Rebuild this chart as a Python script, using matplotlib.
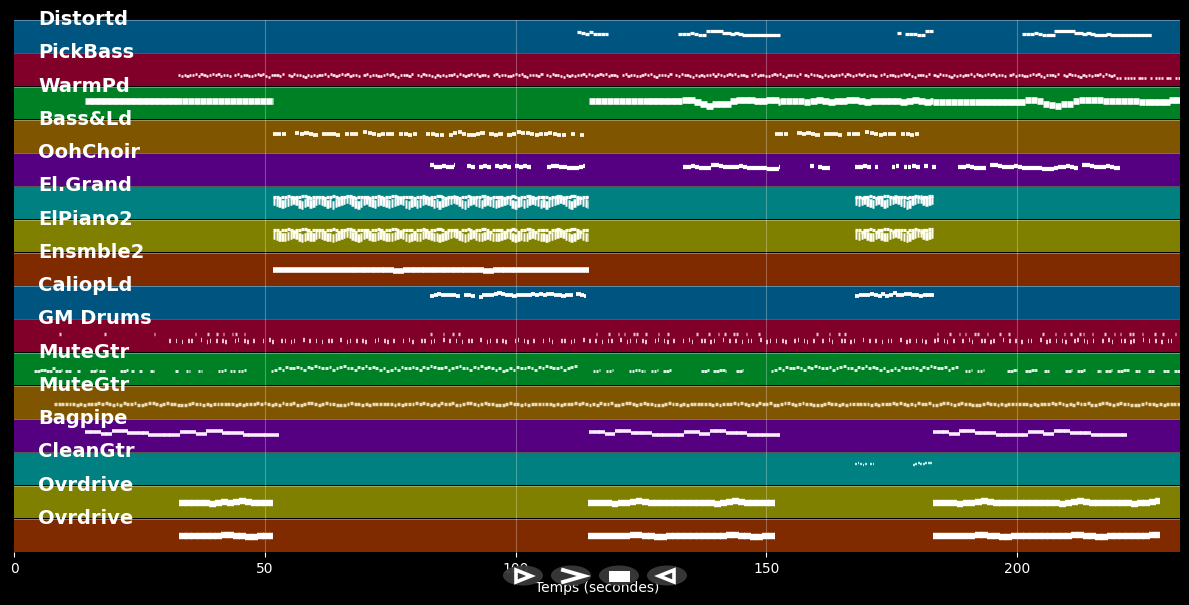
import matplotlib
matplotlib.use("Agg")
import matplotlib.pyplot as plt
from matplotlib.patches import Ellipse, Polygon, Rectangle

# ---------- data (time in s, pitch as MIDI note) ----------
TRACK_NAMES = ["Distortd", "PickBass", "WarmPd", "Bass&Ld", "OohChoir", "El.Grand", "ElPiano2", "Ensmble2",
               "CaliopLd", "GM Drums", "MuteGtr", "MuteGtr", "Bagpipe", "CleanGtr", "Ovrdrive", "Ovrdrive"]
TRACK_COLORS = ["#005580", "#80002A", "#008024", "#805500", "#550080", "#008080", "#808000", "#802A00"]
X_TICKS = [0, 50, 100, 150, 200]
X_END = 232.5

N = None
DIST_SPANS = [(112.2, 118.4), (132.4, 152.7), (176.0, 183.2), (201.0, 226.7)]
DIST_A = [81, 77, 73, 81, 75, 75, 75, 75]
DIST_B = [73, 73, 75, 77, 73, 71, 71, 84, 84, 84, 84, 77, 77, 75, 77, 73, 71, 71, 71, 71, 71, 71, 71, 71, 71, 71]
DIST_C = [77, N, 75, 75, 73, 71, 71, 84, 84]
DIST_D = [73, 73, 75, 77, 73, 71, 71, 71, 84, 84, 84, 84, 84, 77, 77, 75, 77, 73, 71, 71, 71, 73, 71, 71, 71, 71,
          71, 71, 71, 71, 71, 71, 71, 71]

BASS_SPANS = [(32.7, 219.7), (219.7, 232.5)]
BASS_MAIN = [43, 39, 43, 39, 43, 43, 47, 39, 47, 43, 39, 43, 47, 43, 47, 39, 43, 43, 39, N, 43, 47, 39, 43,
             43, 39, 39, 43, 47, 43, 47, 39, 35, 43, 43, 43, 39, 47, N, 43, 39, 47, 43, 43, 39, 35]
BASS_END = [33, 33, N, 33, 33, 33, 33, N, 33, 33, 33, N, 33, N, 33, 33, 33, N]

WARM_SPANS = [(14.2, 51.7), (114.6, 133.2), (133.2, 152.7), (152.7, 183.2), (183.2, 201.5), (201.5, 232.5)]
WARM_A = [70]
WARM_B = [70]
WARM_C = [74, 74, 66, 62, 54, 60, 62, 62, 70, 74, 74, 74, 72, 72]
WARM_D = [70, 70, 72, 72, 68, 70, 74, 70, 66, 70, 72, 74, 74, 70, 68, 70]
WARM_E = [66]
WARM_F = [74, 74, 70, 62, 58, 54, 62, 62, 70, 74, 74, 74, 74, 72, 70, 70, 70, 70, 70, 68, 66, 66, 66, 66]

CHOIR_SPANS = [(51.6, 113.8), (151.7, 182.2)]
CHOIR_RIFF = [73, 73, 73, N, N, 77, 73, 77, 73, 70, N, 73, 73, 73, 70, N, 73, 73, 73, N, 81, 77, 73, 70, 73, 73, 73, N,
              73, 73, 70, 73, N, N, 73, 73, 70, 70, N, 70, 77, 81, 73, 70, 70, 73, 77, N, 73, 70, 73, N, 70, 73,
              81, 77, 77, 73, 70, 73, 73, 77, 73, 70, 70, N, 73, N, 70, N]

OOH_SPANS = [(82.9, 87.9), (90.3, 103.5), (106.3, 113.8), (133.4, 152.7), (158.7, 162.7), (167.7, 172.2),
             (175.0, 184.6), (188.2, 220.5)]
OOH_A = [81, 73, 73, 77, 73, 73]
OOH_B = [77, 73, N, 73, 77, 73, N, 77, 73, 77, 73, N, 77, 73]
OOH_C = [73, 77, 77, 73, 73, 70, 70, 70]
OOH_D = [73, 73, 77, 73, 70, 70, 70, 81, 81, 77, 73, 73, 73, 73, 77, 73, 70, 70, 70, 70, 70, 66, 66, 66]
OOH_E = [77, N, 73, 70, 70]
OOH_F = [73, 73, 77, 73, N, 73]
OOH_G = [73, 77, N, 73, 73, 77, 73, N, 77, N, 73, N]
OOH_H = [73, 73, 77, 73, 70, 70, 70, N, 81, 81, 77, 73, 73, 73, 77, 73, 70, 70, 70, 70, 70, 66, 66, 66, 70, 73, 73,
         77, 73, 70, N, 81, 81, 77, 73, 73, 73, 77, 73, 70, 70, 70, 66, 66, 66, 66]

PIANO_SPANS = [(51.6, 114.4), (167.7, 183.2)]
PIANO_RIFF = [69, 65, 62, 60, 62, 65, 69, 73, 69, 60, 56, 62, 65, 60, 62, 69, 73, 69, 65, 60, 62, 56, 62, 65, 69, 73, 77,
              73, 65, 60, 56, 62, 69, 73, 65, 62, 60, 65]
PIANO_B = [69, 65, 69, 73, 65, 62, 60, 69, 73, 65, 60, 62, 69, 73, 77, 73, 65, 62, 56, 60, 69, 73, 77, 77]
PIANO_TOP = [85, 85, 81, 85, 85, 89, 85, 81, 85, 85, 89, 89, 85, 81, 85, 85]

ENS_SPANS = [(51.6, 114.6)]
ENS_RIFF = [62, 62, 62, 62, 62, 62, 62, 62, 62, 62, 62, 62, 58, 62, 62, 62, 62, 62, 62, 62, 62, 58, 62, 62]

CAL_SPANS = [(82.9, 114.0), (167.7, 183.4)]
CAL_A = [89, 93, 95, 93, 93, 91, 93, 89, N, 93, 93, 89, N, 85, 93, 93, 93, 97, 99, 97, 93, 93, 89, 93, 93, 93, 93, 97,
         93, 97, 93, 97, 97, 93, 93, 89, 93, 93, N, 97, 93]
CAL_B = [89, 93, 93, 93, 97, 93, 89, 97, 89, 93, 99, 93, 93, 97, 97, 93, 93, 89, 93, 93, 93]

DRUM_LOW_SPANS = [(31.0, 232.5)]
DRUM_LOW_RIFF = [43, N, 43, N, 39, N, 43, 43, N, N, 47, N, 39, 43, N, 43, N, 43, 39, N, N, 43, 47, N, 43, 39, N, 43, N,
                 N, 43, N, 47, 39, N, N, 43, 43, N, 39, 43, N, N, 47, N]
DRUM_TOP_SPANS = [(9.0, 9.5), (18.0, 18.5), (27.9, 28.4), (36.0, 46.0), (83.0, 90.0), (116.0, 131.0), (136.0, 150.0),
                  (160.0, 166.5), (184.0, 199.0), (205.0, 228.0), (229.0, 232.5)]
DRUM_TOP_RIFF = [70, N, N, N, 70, N, N, 70, N, 70, N, N, 70, 70, N, N]

MUTE_DENSE_SPANS = [(51.2, 112.5), (150.9, 188.5)]
MUTE_DENSE = [58, 62, 66, 62, 70, 66, 66, 70, 66, 62, 70, 66, 74, 70, 66, 66, 70, 62, 66, 70, 74, 66, 66, 62, 70, 66,
              74, 66, 70, 66, 62, 66]
MUTE_SPARSE_SPANS = [(4.0, 9.6), (10.2, 11.4), (12.6, 13.2), (15.2, 16.6), (17.0, 18.2), (21.2, 22.8), (23.4, 24.0),
                     (25.0, 25.6), (27.2, 28.0), (32.2, 32.8), (34.2, 35.0), (36.6, 37.4), (40.6, 42.2), (43.0, 44.0),
                     (44.6, 46.4), (115.4, 116.8), (118.0, 119.4), (122.6, 125.8), (127.0, 128.4), (129.4, 131.0),
                     (137.0, 138.6), (139.4, 142.0), (144.0, 145.4), (189.6, 191.0), (192.0, 193.4), (198.0, 200.0),
                     (201.6, 204.0), (205.4, 206.4), (209.6, 211.0), (212.0, 213.6), (216.0, 216.8), (217.6, 219.0),
                     (220.0, 222.4), (223.6, 224.6), (226.2, 227.4), (229.2, 230.4), (231.4, 232.5)]
MUTE_SPARSE = [58, 58, 62, 62, 58, 58, 66]

MUTE2_SPANS = [(8.0, 232.5)]
MUTE2_RIFF = [58, 58, 58, 58, 58, 58, 54, 58, 54, 58, 58, 58, 62, 58, 62, 58, 54, 58, 54, 62, 58, 58, 62, 54, 54, 58, 62,
              62, 58, 54, 58, 62, 58, 58, 54, 54, 54, 58, 62, 58, 58, 54, 58, 54]

BAG_SPANS = [(14.2, 52.8), (114.6, 152.7), (183.2, 221.9)]
BAG_RIFF = [77, 77, 77, 70, 70, 81, 81, 81, 74, 74, 74, 74, 66, 66, 66, 66, 66, 66,
            77, 77, 77, 70, 70, 81, 81, 81, 74, 74, 74, 74, 66, 66, 66, 66, 66, 66, 66]

CLEAN_SPANS = [(167.7, 171.4), (179.2, 183.2)]
CLEAN_A = [81, 85, 81, 77, 81, N, 81]
CLEAN_B = [77, 81, 85, 81, 81, 85, 85, 85]

OVR_SPANS = [(32.9, 51.7), (114.4, 151.7), (183.2, 228.5)]
OVR_A = [62, 62, 62, 62, 60, 58, 62, 64, 62, 64, 66, 64, 62, 62, 62, 62]
OVR_B = [62, 62, 62, 60, 58, 60, 62, 64, 66, 64, 62, 62, 62, 62, 62, 62, 62, 62, 62, 62, 60, 58, 62, 64, 66, 64, 62, 62, 62]
OVR2_A = [62, 62, 62, 62, 62, 62, 62, 64, 66, 62, 60, 58, 58, 60, 62]
OVR2_B = [62, 62, 62, 62, 62, 62, 62, 64, 66, 62, 60, 58, 58, 62, 62, 62, 62, 62, 62, 62, 62, 62, 62, 64, 66, 62, 60, 58, 58]

# ---------- figure ----------
W, H = 1189, 605
plt.rcParams["font.family"] = "DejaVu Sans"
fig = plt.figure(figsize=(W / 100, H / 100), dpi=100, facecolor="black")
ax = fig.add_axes([14 / W, 1 - 552 / H, 1166 / W, 532 / H], facecolor="black")
n = len(TRACK_NAMES)
ax.set_xlim(0, X_END)
ax.set_ylim(n, 0)


def band_y(track, pitch):
    return track + 1 - pitch / 127


def roll(track, spans, riffs, step, px, gap=0.12, color="white", alpha=1.0):
    """Draw each span as notes: one per riff entry, riff repeats over the span."""
    if riffs and not isinstance(riffs[0], list):
        riffs = [riffs] * len(spans)
    for (t0, t1), riff in zip(spans, riffs):
        k = 0
        t = t0
        while t < t1 - 1e-6:
            p = riff[k % len(riff)]
            if p is not None:
                ax.hlines(band_y(track, p), t, min(t + step * (1 - gap), t1), colors=color,
                          linewidth=px * 0.72, alpha=alpha, zorder=4, capstyle="butt")
            t += step
            k += 1


for i, name in enumerate(TRACK_NAMES):
    ax.axhspan(i + 0.015, i + 0.985, color=TRACK_COLORS[i % len(TRACK_COLORS)], lw=0, zorder=1)
    ax.axhline(i, color="white", alpha=0.35, lw=0.7, zorder=2)
    ax.text(4.8, i - 0.01, name, color="white", fontsize=14, fontweight="bold", va="center", ha="left",
            zorder=6, clip_on=False)
for x in X_TICKS[1:]:
    ax.axvline(x, color="white", alpha=0.28, lw=0.8, zorder=3)

roll(0, DIST_SPANS, [DIST_A, DIST_B, DIST_C, DIST_D], 0.8, 3.2, gap=-0.1)
roll(1, BASS_SPANS, [BASS_MAIN, BASS_END], 0.56, 2.6, gap=0.2, color="#ffe8f0")
roll(2, WARM_SPANS, [WARM_A, WARM_B, WARM_C, WARM_D, WARM_E, WARM_F], 1.2, 6.6, gap=-0.1)
roll(3, CHOIR_SPANS, CHOIR_RIFF, 0.9, 3.8, gap=0.08, color="#fff8e8")
roll(4, OOH_SPANS, [OOH_A, OOH_B, OOH_C, OOH_D, OOH_E, OOH_F, OOH_G, OOH_H], 0.8, 4.2, gap=0.05)
roll(5, PIANO_SPANS, [PIANO_RIFF, PIANO_B], 0.56, 8.5, gap=0.12)
roll(5, PIANO_SPANS, PIANO_TOP, 0.56, 3.2, gap=-0.1)
roll(6, PIANO_SPANS, [PIANO_RIFF, PIANO_B], 0.56, 8.5, gap=0.12, color="#fffff0")
roll(6, PIANO_SPANS, PIANO_TOP, 0.56, 3.2, gap=-0.1, color="#fffff0")
roll(7, ENS_SPANS, ENS_RIFF, 2.0, 5.6, gap=-0.05)
roll(8, CAL_SPANS, [CAL_A, CAL_B], 0.75, 3.8, gap=-0.1)
roll(9, DRUM_LOW_SPANS, DRUM_LOW_RIFF, 0.62, 4.4, gap=0.5, color="#ffe8f0", alpha=0.85)
roll(9, DRUM_TOP_SPANS, DRUM_TOP_RIFF, 0.62, 3.4, gap=0.5, color="#ffe8f0", alpha=0.85)
roll(10, MUTE_DENSE_SPANS, MUTE_DENSE, 0.72, 3.0, gap=0.25, color="#d8f0e0")
roll(10, MUTE_SPARSE_SPANS, MUTE_SPARSE, 0.6, 3.0, gap=0.15, color="#d8f0e0")
roll(11, MUTE2_SPANS, MUTE2_RIFF, 0.72, 3.4, gap=0.2, color="#e8dcb8")
roll(12, BAG_SPANS, BAG_RIFF, 1.05, 3.6, gap=-0.08, color="#fbeeff")
roll(13, CLEAN_SPANS, [CLEAN_A, CLEAN_B], 0.5, 2.4, gap=0.25, color="#b8e8e8")
roll(14, OVR_SPANS, [OVR_A, OVR_B, OVR_B], 1.2, 6.4, gap=-0.1)
roll(15, OVR_SPANS, [OVR2_A, OVR2_B, OVR2_B], 1.2, 6.4, gap=-0.1)

for s in ax.spines.values():
    s.set_visible(False)
ax.set_yticks([])
ax.set_xticks(X_TICKS)
ax.tick_params(axis="x", colors="white", labelsize=10, length=3.5, width=0.8, pad=3.5)
ax.set_xlabel("Temps (secondes)", color="white", fontsize=10, labelpad=4)

# overlay with the playback buttons (pixel coordinates)
ov = fig.add_axes([0, 0, 1, 1], facecolor="none", zorder=10)
ov.set_xlim(0, W)
ov.set_ylim(H, 0)
ov.axis("off")
for cx in (523, 571, 619, 667):
    ov.add_patch(Ellipse((cx, 575.5), 40, 20, color="#3a3a3a", lw=0, alpha=0.95))
ov.add_patch(Polygon([(516, 570), (531, 576), (516, 582)], closed=True, fill=False, ec="white", lw=2.6))
ov.plot([563, 584, 563], [570, 576, 582], color="white", lw=2.8, solid_joinstyle="miter")
ov.add_patch(Rectangle((609, 570.5), 21, 11, color="white", lw=0))
ov.add_patch(Polygon([(674, 570), (659, 576), (674, 582)], closed=True, fill=False, ec="white", lw=2.6))

fig.savefig("out.png", dpi=100, facecolor="black")
